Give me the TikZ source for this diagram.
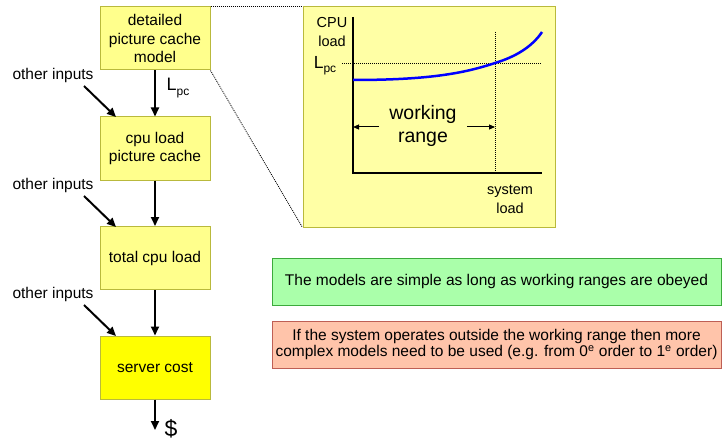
\documentclass[tikz,border=0pt]{standalone}
\usepackage{fontspec}
\setmainfont{Liberation Sans}
\usetikzlibrary{arrows.meta}
\definecolor{boxyellow}{RGB}{255,255,140}
\definecolor{chartyellow}{RGB}{255,255,165}
\definecolor{costyellow}{RGB}{255,255,0}
\definecolor{boxedge}{RGB}{185,185,60}
\definecolor{notegreen}{RGB}{170,255,170}
\definecolor{greenedge}{RGB}{60,170,60}
\definecolor{notepink}{RGB}{255,196,170}
\definecolor{pinkedge}{RGB}{190,95,85}
\newcommand{\Lpc}{L\raisebox{-0.45ex}{\fontsize{12}{12}\selectfont pc}}
\newcommand{\fs}[2]{\fontsize{#1}{#2}\selectfont}

\begin{document}
\begin{tikzpicture}[x=1pt,y=-1pt,font=\fs{15.5}{18.5},
	block/.style={draw=boxedge,fill=boxyellow,line width=1pt,minimum width=110pt,minimum height=63pt,align=center,inner sep=0pt},
	note/.style={line width=1pt,minimum width=449pt,minimum height=47pt,align=center,inner sep=0pt},
	flow/.style={-{Triangle[width=8pt,length=9pt]},line width=2pt},
	guide/.style={line width=0.8pt,dash pattern=on 1pt off 1pt},
	rangearrow/.style={-{Triangle[width=5pt,length=6pt]},line width=1pt}]

	\useasboundingbox (0,0) rectangle (725,441);

%	left chain
				\node[block] 	(detail)	at (155,38.5) 		{detailed\\picture cache\\model};
				\node[block] 	(cache)		at (155,148.5) 		{cpu load\\picture cache};
				\node[block] 	(total)		at (155,258) 		{total cpu load};
				\node[block,fill=costyellow] 	(server)	at (155,367.5) 		{server cost};
				\coordinate	(out)		at (155,430);

				\node[font=\fs{18}{18}] 	(lpc)		at (178,88) 		{\Lpc};
				\node[font=\fs{23}{23}] 	(dollar)	at (171,429) 		{\$};

				\node 	(other1)	at (53,75) 		{other inputs};
				\node 	(other2)	at (53,185) 		{other inputs};
				\node 	(other3)	at (53,294) 		{other inputs};
				\coordinate	(in1s)	at (84,86);
				\coordinate	(in1e)	at (116,117);
				\coordinate	(in2s)	at (84,196);
				\coordinate	(in2e)	at (116,227);
				\coordinate	(in3s)	at (84,305);
				\coordinate	(in3e)	at (116,336);

				\path[flow]
				(detail)	edge	(cache)
				(cache)		edge	(total)
				(total)		edge	(server)
				(server)	edge	(out)
				(in1s)		edge	(in1e)
				(in2s)		edge	(in2e)
				(in3s)		edge	(in3e);

%	zoomed chart
				\node[draw=boxedge,fill=chartyellow,line width=1pt,minimum width=252pt,minimum height=220pt] 	(chart)	at (429,117) 	{};
				\draw[guide] (detail.north east) -- (chart.north west);
				\draw[guide] (detail.south east) -- (chart.south west);

				\coordinate	(origin)	at (353,173);
				\coordinate	(ytop)		at (353,17);
				\coordinate	(xright)	at (542,173);
				\coordinate	(lpcl)		at (342,63);
				\coordinate	(lpcr)		at (541,63);
				\coordinate	(knee)		at (495,63);
				\coordinate	(kneetop)	at (495,32);
				\coordinate	(kneebot)	at (495,173);
				\coordinate	(wl)		at (353,127);
				\coordinate	(wla)		at (379,127);
				\coordinate	(wr)		at (495,127);
				\coordinate	(wra)		at (467,127);

				\draw[guide] (lpcl) -- (lpcr);
				\draw[guide] (kneetop) -- (kneebot);
				\draw[line width=1.3pt] (ytop) -- (origin) -- (xright);
				\draw[blue,line width=2.5pt] (353,80) .. controls (430,80) and (465,73) .. (knee)
					.. controls (515,57) and (532,47) .. (542,32);

				\node[align=center,font=\fs{14.5}{19}] 	(cpuload)	at (332,32.5) 	{CPU\\load};
				\node[font=\fs{17.5}{17.5}] 	(lpcchart)	at (325,66) 		{\Lpc};
				\node[align=center,font=\fs{19.5}{23}] 	(range)		at (423,126) 	{working\\range};
				\node[align=center,font=\fs{14.5}{19}] 	(sysload)	at (510,199) 	{system\\load};

				\path[rangearrow]
				(wla)	edge	(wl)
				(wra)	edge	(wr);

%	remarks
				\node[note,draw=greenedge,fill=notegreen] 	(simple)	at (496.5,281.5) 	{The models are simple as long as working ranges are obeyed};
				\node[note,draw=pinkedge,fill=notepink,font=\fs{15.5}{15.5}] 	(complex)	at (496.5,344.5) 	{If the system operates outside the working range then more\\complex models need to be used (e.g. from 0\textsuperscript{e} order to 1\textsuperscript{e} order)};

\end{tikzpicture}
\end{document}
